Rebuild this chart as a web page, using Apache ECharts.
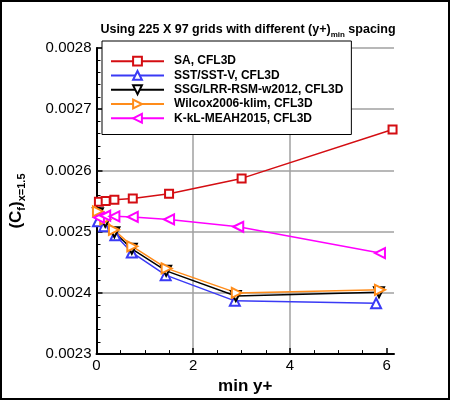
<!DOCTYPE html>
<html>
<head>
<meta charset="utf-8">
<script src="https://cdn.jsdelivr.net/npm/echarts@6/dist/echarts.min.js"></script>
<style>
  html, body { margin: 0; padding: 0; background: #fff; }
  #chart { width: 450px; height: 400px; }
</style>
</head>
<body>
<div id="chart"></div>
<script>
// values
const saX = [0.05, 0.19, 0.37, 0.75, 1.5, 3.0, 6.12];
const saY = [0.002549, 0.002550, 0.002552, 0.002554, 0.002562, 0.002587, 0.002667];

const sstX = [0.03, 0.16, 0.39, 0.73, 1.43, 2.86, 5.78];
const sstY = [0.002517, 0.002509, 0.002494, 0.002466, 0.002429, 0.002387, 0.002383];

const ssgX = [0.03, 0.18, 0.37, 0.73, 1.44, 2.88, 5.84];
const ssgY = [0.002530, 0.002516, 0.002499, 0.002472, 0.002436, 0.002395, 0.002401];

const wilX = [0.03, 0.18, 0.36, 0.74, 1.45, 2.90, 5.86];
const wilY = [0.002533, 0.002520, 0.002503, 0.002476, 0.002440, 0.002400, 0.002405];

const kklX = [0.05, 0.18, 0.37, 0.75, 1.5, 2.93, 5.86];
const kklY = [0.002523, 0.002526, 0.002525, 0.002524, 0.002520, 0.002508, 0.002465];

const seriesNames = ['SA, CFL3D', 'SST/SST-V, CFL3D', 'SSG/LRR-RSM-w2012, CFL3D',
  'Wilcox2006-klim, CFL3D', 'K-kL-MEAH2015, CFL3D'];

const xMajorTicks = [0, 2, 4, 6];
const xMinorTicks = [0.5, 1, 1.5, 2.5, 3, 3.5, 4.5, 5, 5.5];

const FONT = 'Liberation Sans';

function pairs(xs, ys) {
  return xs.map((x, i) => [x, ys[i]]);
}

function makeSeries(name, xs, ys, color, symbol, rotate, size) {
  return {
    name: name,
    type: 'line',
    data: pairs(xs, ys),
    symbol: symbol,
    symbolSize: size,
    symbolRotate: rotate,
    lineStyle: { color: color, width: 1.5 },
    itemStyle: { color: color, borderColor: color, borderWidth: 1.2 },
    z: 3,
    animation: false
  };
}

const chart = echarts.init(document.getElementById('chart'));

const option = {
  animation: false,
  backgroundColor: '#fff',
  title: {
    left: 243,
    top: 16,
    textAlign: 'center',
    text: '{b|Using 225 X 97 grids with different (y+)}{s|min}{b| spacing}',
    textStyle: {
      rich: {
        b: { fontFamily: FONT, fontWeight: 'bold', fontSize: 12.5, color: '#000', lineHeight: 18, verticalAlign: 'middle' },
        s: { fontFamily: FONT, fontWeight: 'bold', fontSize: 8, color: '#000', lineHeight: 18, verticalAlign: 'bottom' }
      }
    }
  },
  legend: {
    orient: 'vertical',
    left: 102,
    top: 41,
    backgroundColor: '#fff',
    borderColor: '#000',
    borderWidth: 1,
    padding: [13, 8, 9, 8],
    itemWidth: 53,
    itemHeight: 11,
    itemGap: 0,
    data: seriesNames,
    textStyle: {
      fontFamily: FONT,
      fontWeight: 'bold',
      fontSize: 12,
      color: '#000',
      lineHeight: 14.3,
      padding: [0, 0, 0, 5]
    },
    z: 10
  },
  grid: { left: 91, right: 56, top: 48, bottom: 45 },
  xAxis: [
    {
      type: 'value',
      min: 0,
      max: 6.15,
      interval: 2,
      name: 'min y+',
      nameLocation: 'middle',
      nameGap: 18,
      nameTextStyle: { fontFamily: FONT, fontWeight: 'bold', fontSize: 17, color: '#000', verticalAlign: 'top' },
      axisLine: { show: true, onZero: false, lineStyle: { color: '#000', width: 2 } },
      axisTick: { show: true, inside: true, length: 6, customValues: xMajorTicks, lineStyle: { color: '#000', width: 1.5 } },
      axisLabel: { customValues: xMajorTicks, fontFamily: FONT, fontSize: 15, color: '#000', margin: 4 },
      splitLine: { show: true, showMinLine: false, showMaxLine: false, lineStyle: { color: '#a0a0a0', width: 1.5 } }
    },
    {
      type: 'value',
      position: 'bottom',
      min: 0,
      max: 6.15,
      axisLine: { show: false },
      axisTick: { show: true, inside: true, length: 4, customValues: xMinorTicks, lineStyle: { color: '#000', width: 1 } },
      axisLabel: { show: false },
      splitLine: { show: false }
    }
  ],
  yAxis: {
    type: 'value',
    min: 0.0023,
    max: 0.0028,
    interval: 0.0001,
    name: '{b|(C}{s|f}{b|)}{s|x=1.5}',
    nameLocation: 'middle',
    nameRotate: 90,
    nameGap: 69,
    nameTextStyle: {
      rich: {
        b: { fontFamily: FONT, fontWeight: 'bold', fontSize: 17, color: '#000', lineHeight: 22, verticalAlign: 'middle' },
        s: { fontFamily: FONT, fontWeight: 'bold', fontSize: 11, color: '#000', lineHeight: 22, verticalAlign: 'bottom' }
      }
    },
    axisLine: { show: true, lineStyle: { color: '#000', width: 2 } },
    axisTick: { show: true, inside: true, length: 6, lineStyle: { color: '#000', width: 1.5 } },
    minorTick: { show: true, splitNumber: 5, length: 4, lineStyle: { color: '#000', width: 1 } },
    axisLabel: {
      fontFamily: FONT, fontSize: 15, color: '#000', margin: 5,
      formatter: v => v.toFixed(4)
    },
    splitLine: { show: true, showMinLine: false, lineStyle: { color: '#a0a0a0', width: 1.5 } }
  },
  graphic: [{
    type: 'rect',
    shape: { x: 1, y: 1, width: 448, height: 398 },
    style: { fill: 'none', stroke: '#000', lineWidth: 2 },
    z: 100
  }],
  series: [
    makeSeries(seriesNames[0], saX, saY, '#d40d12', 'emptyRect', 0, 8),
    makeSeries(seriesNames[1], sstX, sstY, '#3a3af5', 'emptyTriangle', 0, 10),
    makeSeries(seriesNames[2], ssgX, ssgY, '#000000', 'emptyTriangle', 180, 10),
    makeSeries(seriesNames[3], wilX, wilY, '#ff8c1a', 'emptyTriangle', -90, 10),
    makeSeries(seriesNames[4], kklX, kklY, '#ff00ff', 'emptyTriangle', 90, 10)
  ]
};

option && chart.setOption(option);
</script>
</body>
</html>
